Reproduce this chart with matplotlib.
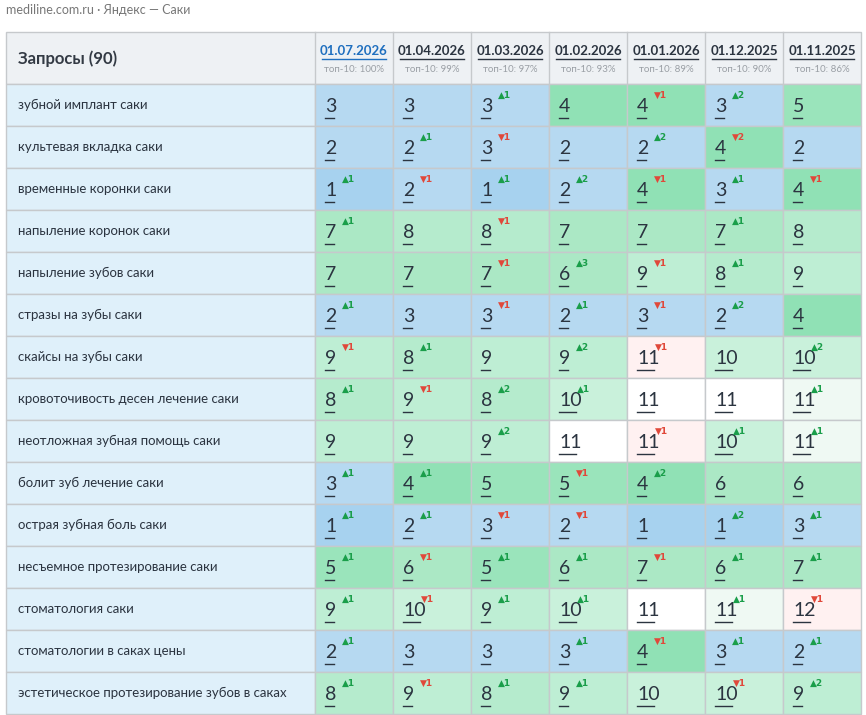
import matplotlib
matplotlib.use('Agg')
import matplotlib.pyplot as plt
from matplotlib.patches import Rectangle

plt.rcParams['font.family'] = ['Lato', 'DejaVu Sans']

title = 'mediline.com.ru · Яндекс — Саки'
dates = ['01.07.2026', '01.04.2026', '01.03.2026', '01.02.2026', '01.01.2026', '01.12.2025', '01.11.2025']
top10 = ['100%', '99%', '97%', '93%', '89%', '90%', '86%']
queries = [
    'зубной имплант саки', 'культевая вкладка саки', 'временные коронки саки',
    'напыление коронок саки', 'напыление зубов саки', 'стразы на зубы саки',
    'скайсы на зубы саки', 'кровоточивость десен лечение саки',
    'неотложная зубная помощь саки', 'болит зуб лечение саки',
    'острая зубная боль саки', 'несъемное протезирование саки',
    'стоматология саки', 'стоматологии в саках цены',
    'эстетическое протезирование зубов в саках',
]
positions = [
    [3, 3, 3, 4, 4, 3, 5],
    [2, 2, 3, 2, 2, 4, 2],
    [1, 2, 1, 2, 4, 3, 4],
    [7, 8, 8, 7, 7, 7, 8],
    [7, 7, 7, 6, 9, 8, 9],
    [2, 3, 3, 2, 3, 2, 4],
    [9, 8, 9, 9, 11, 10, 10],
    [8, 9, 8, 10, 11, 11, 11],
    [9, 9, 9, 11, 11, 10, 11],
    [3, 4, 5, 5, 4, 6, 6],
    [1, 2, 3, 2, 1, 1, 3],
    [5, 6, 5, 6, 7, 6, 7],
    [9, 10, 9, 10, 11, 11, 12],
    [2, 3, 3, 3, 4, 3, 2],
    [8, 9, 8, 9, 10, 10, 9],
]
changes = [
    [0, 0, 1, 0, -1, 2, 0],
    [0, 1, -1, 0, 2, -2, 0],
    [1, -1, 1, 2, -1, 1, -1],
    [1, 0, -1, 0, 0, 1, 0],
    [0, 0, -1, 3, -1, 1, 0],
    [1, 0, -1, 1, -1, 2, 0],
    [-1, 1, 0, 2, -1, 0, 2],
    [1, -1, 2, 1, 0, 0, 1],
    [0, 0, 2, 0, -1, 1, 1],
    [1, 1, 0, -1, 2, 0, 0],
    [1, 1, -1, -1, 0, 2, 1],
    [1, -1, 1, 1, -1, 1, 1],
    [1, -1, 1, 1, 0, 1, -1],
    [1, 0, 0, 1, -1, 1, 1],
    [1, -1, 1, 1, 0, -1, 2],
]


def cell_color(v, ch):
    if v == 1:
        return '#a7d2ef'
    if v <= 3:
        return '#b6d9f1'
    if v == 4:
        return '#90e1b5'
    if v == 5:
        return '#9ae4bb'
    if v <= 7:
        return '#abe8c5'
    if v == 8:
        return '#b5ebcd'
    if v == 9:
        return '#beeed4'
    if v == 10:
        return '#c9f1db'
    if ch < 0:
        return '#fff1f1'
    if ch > 0:
        return '#eff9f3'
    return '#ffffff'


fig = plt.figure(figsize=(8.66, 7.15), dpi=100)
ax = fig.add_axes([0, 0, 1, 1])
ax.set_xlim(0, 866)
ax.set_ylim(715, 0)
ax.axis('off')

x0, x1 = 6, 315
colw = 78.0
hy0, hy1 = 32, 84
rowh = 42.0
grid = '#c6c9cc'

ax.text(6, 10, title, fontsize=9, color='#777777', va='center')

# header
ax.add_patch(Rectangle((x0, hy0), x1 - x0 + colw * 7, hy1 - hy0, fc='#eef1f4', ec=grid, lw=1))
ax.text(x0 + 12, (hy0 + hy1) / 2 + 1, 'Запросы (90)', fontsize=12, fontweight='bold', color='#333a44', va='center')
for j, d in enumerate(dates):
    cx = x1 + colw * j + colw / 2
    col = '#1f6fbf' if j == 0 else '#2b3440'
    ax.text(cx, 51, d, fontsize=9.5, fontweight='bold', color=col, ha='center', va='center')
    ax.plot([cx - 32, cx + 32], [59, 59], color=col, lw=1)
    ax.text(cx, 69, 'топ-10: ' + top10[j], fontsize=7, color='#9a9fa5', ha='center', va='center')
    ax.plot([x1 + colw * j] * 2, [hy0, hy1], color=grid, lw=1)

for i, q in enumerate(queries):
    y = hy1 + rowh * i
    cy = y + rowh / 2
    ax.add_patch(Rectangle((x0, y), x1 - x0, rowh, fc='#dff0fa', ec=grid, lw=1))
    ax.text(x0 + 12, cy, q, fontsize=9.5, color='#2b3440', va='center')
    for j in range(7):
        v, ch = positions[i][j], changes[i][j]
        cx = x1 + colw * j
        ax.add_patch(Rectangle((cx, y), colw, rowh, fc=cell_color(v, ch), ec=grid, lw=1))
        s = str(v)
        w = 9 if v < 10 else 17
        ax.text(cx + 10, cy + 1, s, fontsize=14, color='#2b3440', va='center')
        ax.plot([cx + 10, cx + 10 + w], [cy + 13, cy + 13], color='#2b3440', lw=1)
        if ch != 0:
            sym = '▲' if ch > 0 else '▼'
            c = '#1a9e4a' if ch > 0 else '#e0483a'
            sx = cx + 10 + w + (8 if v < 10 else 1)
            ax.text(sx, cy - 10, sym + str(abs(ch)), fontsize=6.5, color=c, fontweight='bold',
                    va='center', family=['DejaVu Sans'])

fig.savefig('out.png', dpi=100)
